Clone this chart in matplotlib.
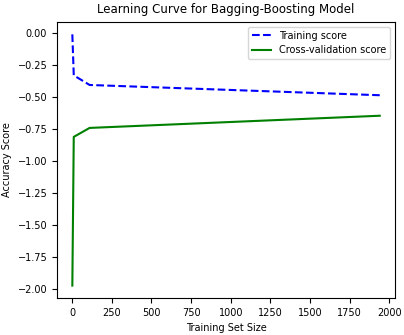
import numpy as np
import matplotlib
matplotlib.use('Agg')
import matplotlib.pyplot as plt

train_sizes = [1, 10, 110, 1940]
train_scores = [-0.01, -0.33, -0.405, -0.485]
cv_scores = [-1.97, -0.81, -0.74, -0.645]

fig = plt.figure(figsize=(4.04, 3.35), dpi=100)
plt.subplots_adjust(left=0.141, right=0.978, top=0.935, bottom=0.11)
plt.plot(train_sizes, train_scores, '--', color='blue', label='Training score')
plt.plot(train_sizes, cv_scores, color='green', label='Cross-validation score')
plt.title("Learning Curve for Bagging-Boosting Model", fontsize=8.5)
plt.xlabel("Training Set Size", fontsize=7)
plt.ylabel("Accuracy Score", fontsize=7)
plt.xticks(np.arange(0, 2001, 250), fontsize=7)
plt.yticks(np.arange(-2.0, 0.01, 0.25), fontsize=7)
plt.legend(loc='best', fontsize=7)
plt.savefig('out.png', dpi=100)
